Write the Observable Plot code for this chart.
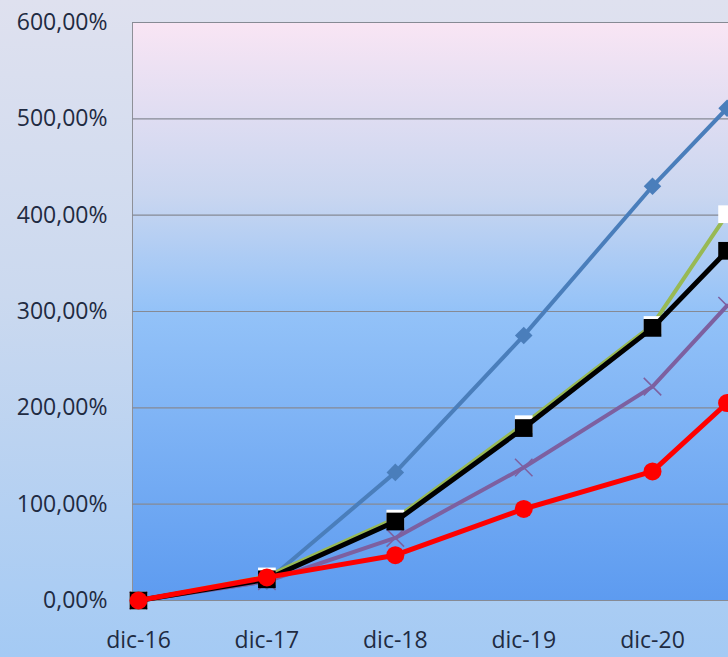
<!DOCTYPE html>
<html>
<head>
<meta charset="utf-8">
<script src="https://cdn.jsdelivr.net/npm/d3@7"></script>
<script src="https://cdn.jsdelivr.net/npm/@observablehq/plot@0.6"></script>
<style>
  html, body { margin: 0; padding: 0; }
  body { width: 728px; height: 657px; overflow: hidden; }
</style>
</head>
<body>
<div id="chart"></div>
<script>
// Data (values in %)
const dates = ["2016-12-01", "2017-12-01", "2018-12-01", "2019-12-01", "2020-12-01", "2021-07-01"];
const blueValues   = [0, 20, 133, 275, 430, 511];
const greenValues  = [0, 25, 85, 183, 286, 401];
const purpleValues = [0, 20, 65, 138, 222, 306];
const blackValues  = [0, 22, 82, 179, 283, 363];
const redValues    = [0, 24, 47, 95, 134, 205];
const xTickDates  = ["2016-12-01", "2017-12-01", "2018-12-01", "2019-12-01", "2020-12-01"];
const xTickLabels = ["dic-16", "dic-17", "dic-18", "dic-19", "dic-20"];
const yTicks = [0, 100, 200, 300, 400, 500, 600];

const parse = s => new Date(s + "T00:00:00Z");

// diamond as a rotated square (Excel style)
const rotSquare = {
  draw(ctx, size) {
    const s = Math.sqrt(size / 2);
    ctx.moveTo(0, -s); ctx.lineTo(s, 0); ctx.lineTo(0, s); ctx.lineTo(-s, 0); ctx.closePath();
  }
};

const series = [
  {name: "blue",   values: blueValues,   stroke: "#4a7ebb", width: 4,   symbol: rotSquare, r: 7,  fill: "#4a7ebb", mstroke: "none"},
  {name: "green",  values: greenValues,  stroke: "#98b954", width: 4,   symbol: "square",  r: 10, fill: "#ffffff", mstroke: "none"},
  {name: "purple", values: purpleValues, stroke: "#7d60a0", width: 4,   symbol: "times",   r: 8,  fill: "none",    mstroke: "#7d60a0"},
  {name: "black",  values: blackValues,  stroke: "#000000", width: 5,   symbol: "square",  r: 10, fill: "#000000", mstroke: "none"},
  {name: "red",    values: redValues,    stroke: "#ff0000", width: 5,   symbol: "circle",  r: 9,  fill: "#ff0000", mstroke: "none"}
];

const marks = [
  Plot.frame({fill: "url(#plotGrad)", stroke: "#8e9098", strokeWidth: 1}),
  Plot.ruleY(yTicks, {stroke: "#868a94", strokeWidth: 1.2})
];
for (const s of series) {
  const rows = dates.map((d, i) => ({date: parse(d), value: s.values[i]}));
  marks.push(Plot.line(rows, {x: "date", y: "value", stroke: s.stroke, strokeWidth: s.width, strokeLinejoin: "round"}));
  marks.push(Plot.dot(rows, {x: "date", y: "value", symbol: s.symbol, r: s.r, fill: s.fill,
    stroke: s.mstroke, strokeWidth: s.symbol === "times" ? 1.5 : 1}));
}

const labelMap = new Map(xTickDates.map((d, i) => [parse(d).getTime(), xTickLabels[i]]));

marks.push(Plot.axisY({ticks: yTicks, tickSize: 0, tickPadding: 25, fontSize: 23,
  tickFormat: d => d.toFixed(2).replace(".", ",") + "%", label: null}));
marks.push(Plot.axisX({ticks: xTickDates.map(parse), tickSize: 0, tickPadding: 31, fontSize: 23,
  tickFormat: d => labelMap.get(d.getTime()), label: null}));

const chart = Plot.plot({
  width: 728,
  height: 657,
  marginLeft: 132,
  marginRight: 0,
  marginTop: 22,
  marginBottom: 57,
  style: {
    fontFamily: "'Open Sans', sans-serif",
    fontSize: "23px",
    color: "#1f2b42",
    background: "linear-gradient(180deg, #dfe1ef 0%, #cbd9ef 45%, #a4caf4 100%)",
    overflow: "hidden"
  },
  x: {type: "utc", domain: [new Date(Date.UTC(2016, 10, 14)), new Date(Date.UTC(2021, 6, 5))]},
  y: {domain: [0, 600]},
  marks
});

const svg = d3.select(chart);
const defs = svg.insert("defs", ":first-child");
const g = defs.append("linearGradient").attr("id", "plotGrad")
  .attr("x1", 0).attr("y1", 0).attr("x2", 0).attr("y2", 1);
g.append("stop").attr("offset", "0%").attr("stop-color", "#f9e5f4");
g.append("stop").attr("offset", "30%").attr("stop-color", "#c9d6f0");
g.append("stop").attr("offset", "50%").attr("stop-color", "#93c2f8");
g.append("stop").attr("offset", "100%").attr("stop-color", "#5d9bf0");

document.getElementById("chart").appendChild(chart);
</script>
</body>
</html>
